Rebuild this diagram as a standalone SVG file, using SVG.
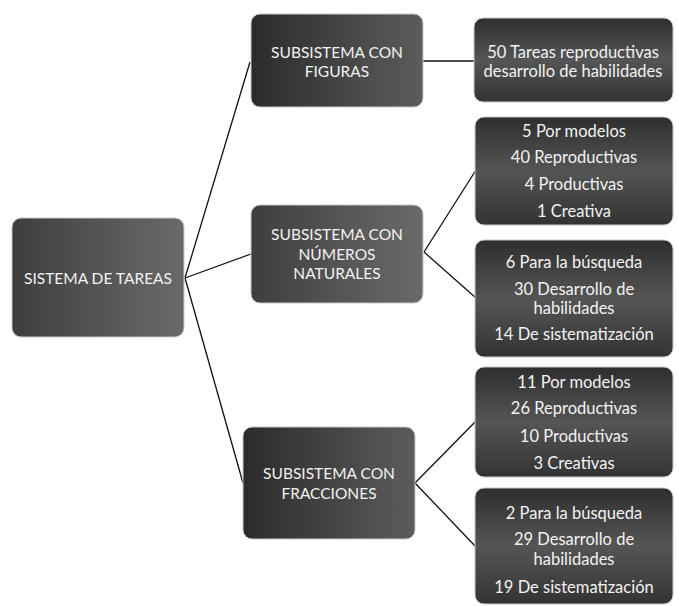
<svg xmlns="http://www.w3.org/2000/svg" width="679" height="606" viewBox="0 0 679 606">
<defs>
<linearGradient id="gh" x1="0" y1="0" x2="1" y2="0">
<stop offset="0" stop-color="#2b2b2b"/>
<stop offset="1" stop-color="#5c5c5c"/>
</linearGradient>
<linearGradient id="gm" x1="0" y1="0" x2="1" y2="0">
<stop offset="0" stop-color="#3e3e3e"/>
<stop offset="1" stop-color="#6a6a6a"/>
</linearGradient>
<linearGradient id="gv" x1="0" y1="0" x2="0" y2="1">
<stop offset="0" stop-color="#2e2e2e"/>
<stop offset="0.5" stop-color="#555"/>
<stop offset="1" stop-color="#333"/>
</linearGradient>
</defs>
<style>
.b{stroke:#c8c8c8;stroke-width:1}
.t{font-family:Lato,"Liberation Sans",sans-serif;font-size:16.5px;fill:#f2f2f2;text-anchor:middle;dominant-baseline:central}
.u{font-size:15.5px}
.c{stroke:#111;stroke-width:1.3;fill:none}
</style>
<rect width="679" height="606" fill="#fff"/>
<g id="connectors">
<line class="c" x1="185" y1="278" x2="250" y2="62"/>
<line class="c" x1="185" y1="278" x2="251" y2="254"/>
<line class="c" x1="185" y1="278" x2="243" y2="483"/>
<line class="c" x1="423" y1="61" x2="474" y2="61"/>
<line class="c" x1="424" y1="252" x2="476" y2="170"/>
<line class="c" x1="424" y1="252" x2="476" y2="298"/>
<line class="c" x1="415" y1="483" x2="476" y2="421"/>
<line class="c" x1="415" y1="483" x2="476" y2="547"/>
</g>
<g id="root">
<rect class="b" x="12" y="218" width="172" height="119" rx="9" fill="url(#gm)"/>
<text class="t u" x="98" y="278">SISTEMA DE TAREAS</text>
</g>
<g id="figuras">
<rect class="b" x="251" y="14" width="172" height="93" rx="9" fill="url(#gh)"/>
<text class="t u" x="337" y="52">SUBSISTEMA  CON</text>
<text class="t u" x="337" y="71">FIGURAS</text>
</g>
<g id="numeros">
<rect class="b" x="251" y="205" width="172" height="98" rx="9" fill="url(#gm)"/>
<text class="t u" x="337" y="234">SUBSISTEMA CON</text>
<text class="t u" x="337" y="254">NÚMEROS</text>
<text class="t u" x="337" y="273">NATURALES</text>
</g>
<g id="fracciones">
<rect class="b" x="243" y="427" width="172" height="112" rx="9" fill="url(#gh)"/>
<text class="t u" x="329" y="473">SUBSISTEMA CON</text>
<text class="t u" x="329" y="493">FRACCIONES</text>
</g>
<g id="fig-tareas">
<rect class="b" x="474" y="18" width="199" height="84" rx="9" fill="url(#gv)"/>
<text class="t" x="573" y="52">50 Tareas reproductivas</text>
<text class="t" x="573" y="71">desarrollo de habilidades</text>
</g>
<g id="num-tipos">
<rect class="b" x="475" y="117" width="198" height="108" rx="9" fill="url(#gv)"/>
<text class="t" x="574" y="131">5 Por modelos</text>
<text class="t" x="574" y="157">40 Reproductivas</text>
<text class="t" x="574" y="184">4 Productivas</text>
<text class="t" x="574" y="211">1 Creativa</text>
</g>
<g id="num-funciones">
<rect class="b" x="475" y="240" width="198" height="117" rx="9" fill="url(#gv)"/>
<text class="t" x="574" y="262">6 Para la búsqueda</text>
<text class="t" x="574" y="289">30 Desarrollo de</text>
<text class="t" x="574" y="308">habilidades</text>
<text class="t" x="574" y="334">14 De sistematización</text>
</g>
<g id="frac-tipos">
<rect class="b" x="475" y="367" width="198" height="110" rx="9" fill="url(#gv)"/>
<text class="t" x="574" y="382">11 Por modelos</text>
<text class="t" x="574" y="408">26 Reproductivas</text>
<text class="t" x="574" y="436">10 Productivas</text>
<text class="t" x="574" y="463">3 Creativas</text>
</g>
<g id="frac-funciones">
<rect class="b" x="475" y="488" width="198" height="116" rx="9" fill="url(#gv)"/>
<text class="t" x="574" y="513">2 Para la búsqueda</text>
<text class="t" x="574" y="539">29 Desarrollo de</text>
<text class="t" x="574" y="559">habilidades</text>
<text class="t" x="574" y="587">19 De sistematización</text>
</g>
</svg>
